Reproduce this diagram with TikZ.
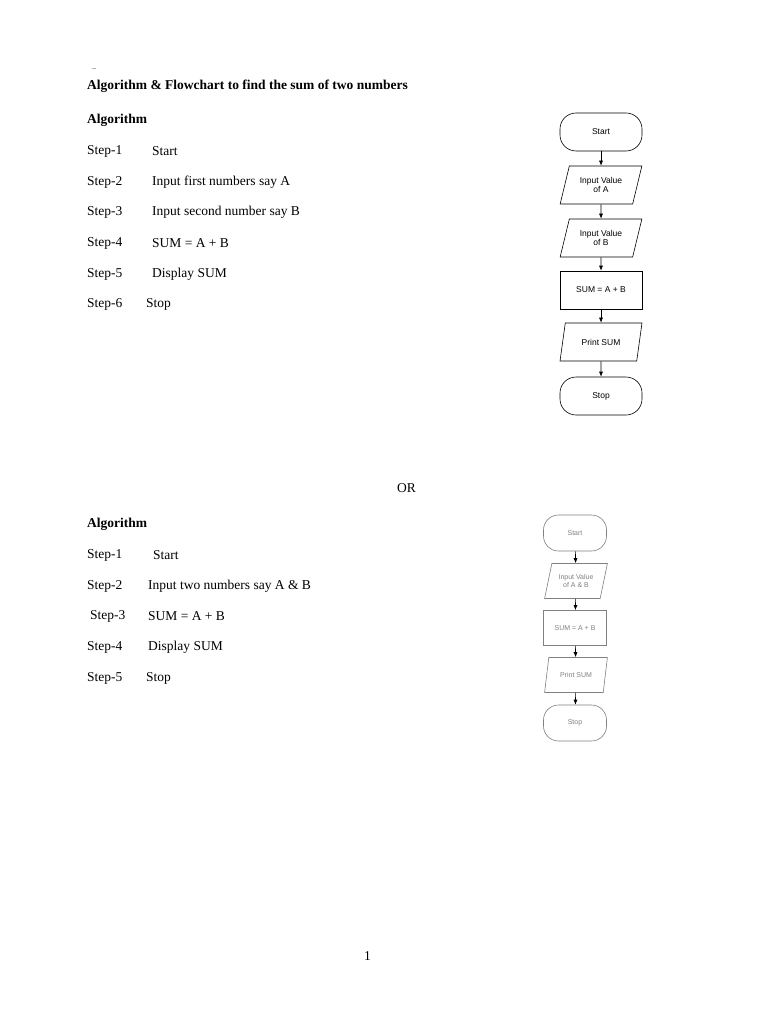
\documentclass[tikz,border=0pt]{standalone}
\usepackage{fontspec}
\setmainfont{Liberation Serif}
\newfontfamily\fcfont{Liberation Sans}
\usetikzlibrary{shapes.geometric,arrows.meta}
\begin{document}
\begin{tikzpicture}[x=1pt,y=-1pt,
  txt/.style={anchor=west,inner sep=0pt,font=\fontsize{13.5}{15}\selectfont},
  bold/.style={txt,font=\fontsize{13.5}{15}\selectfont\bfseries},
  term/.style={draw,rounded corners=16pt,minimum width=82pt,minimum height=38pt,font=\fcfont\fontsize{8.5}{9.5}\selectfont,align=center,line width=0.6pt},
  io/.style={draw,trapezium,trapezium left angle=70,trapezium right angle=110,trapezium stretches=true,minimum width=82pt,minimum height=38pt,font=\fcfont\fontsize{8.5}{9.5}\selectfont,align=center,line width=0.6pt,inner sep=1pt},
  proc/.style={draw,minimum width=82pt,minimum height=38pt,font=\fcfont\fontsize{8.5}{9.5}\selectfont,align=center,line width=0.6pt},
  sterm/.style={term,minimum width=63pt,minimum height=36pt,rounded corners=15pt,draw=gray,text=gray,font=\fcfont\fontsize{7}{8}\selectfont},
  sio/.style={io,minimum width=63pt,minimum height=35pt,draw=gray,text=gray,font=\fcfont\fontsize{7}{8}\selectfont},
  sproc/.style={proc,minimum width=63pt,minimum height=35pt,draw=gray,text=gray,font=\fcfont\fontsize{7}{8}\selectfont},
  arr/.style={-{Latex[length=5pt,width=4pt]},line width=0.6pt}]
\useasboundingbox[fill=white] (0,0) rectangle (768,1024);
\node[txt,font=\fontsize{8}{9}\selectfont] (dots) at (92,69) {..};
\node[bold] (title) at (87,86) {Algorithm \& Flowchart to find the sum of two numbers};
\node[bold] (alg1) at (87,120) {Algorithm};
\foreach \i/\y/\t/\tx in {1/151/Start/152,2/182/Input first numbers say A/152,3/212/Input second number say B/152,4/243/SUM = A + B/152,5/274/Display SUM/152,6/304/Stop/146}{
  \node[txt] (s\i) at (87,\y) {Step-\i};
  \node[txt] (t\i) at (\tx,\y) {\t};
}
\node[txt] (or) at (397,488) {OR};
\node[bold] (alg2) at (87,524) {Algorithm};
\foreach \i/\y/\t/\sx/\tx in {1/555/Start/87/153,2/586/Input two numbers say A \& B/87/148,3/616/SUM = A + B/90/148,4/647/Display SUM/87/148,5/678/Stop/87/146}{
  \node[txt] (u\i) at (\sx,\y) {Step-\i};
  \node[txt] (v\i) at (\tx,\y) {\t};
}
\node[txt] (pg) at (364,956) {1};
% flowchart 1
\node[term] (a1) at (601,132) {Start};
\node[io] (a2) at (601,185) {Input Value\\ of A};
\node[io] (a3) at (601,238) {Input Value\\ of B};
\node[proc] (a4) at (601,290) {SUM = A + B};
\node[io] (a5) at (601,342) {Print SUM};
\node[term] (a6) at (601,396) {Stop};
\foreach \p/\q in {a1/a2,a2/a3,a3/a4,a4/a5,a5/a6} \draw[arr] (\p) -- (\q);
% flowchart 2
\node[sterm] (b1) at (575,533) {Start};
\node[sio] (b2) at (576,581) {Input Value\\ of A \& B};
\node[sproc] (b3) at (575,628) {SUM = A + B};
\node[sio] (b4) at (576,675) {Print SUM};
\node[sterm] (b5) at (575,723) {Stop};
\foreach \p/\q in {b1/b2,b2/b3,b3/b4,b4/b5} \draw[arr] (\p) -- (\q);
\end{tikzpicture}
\end{document}
